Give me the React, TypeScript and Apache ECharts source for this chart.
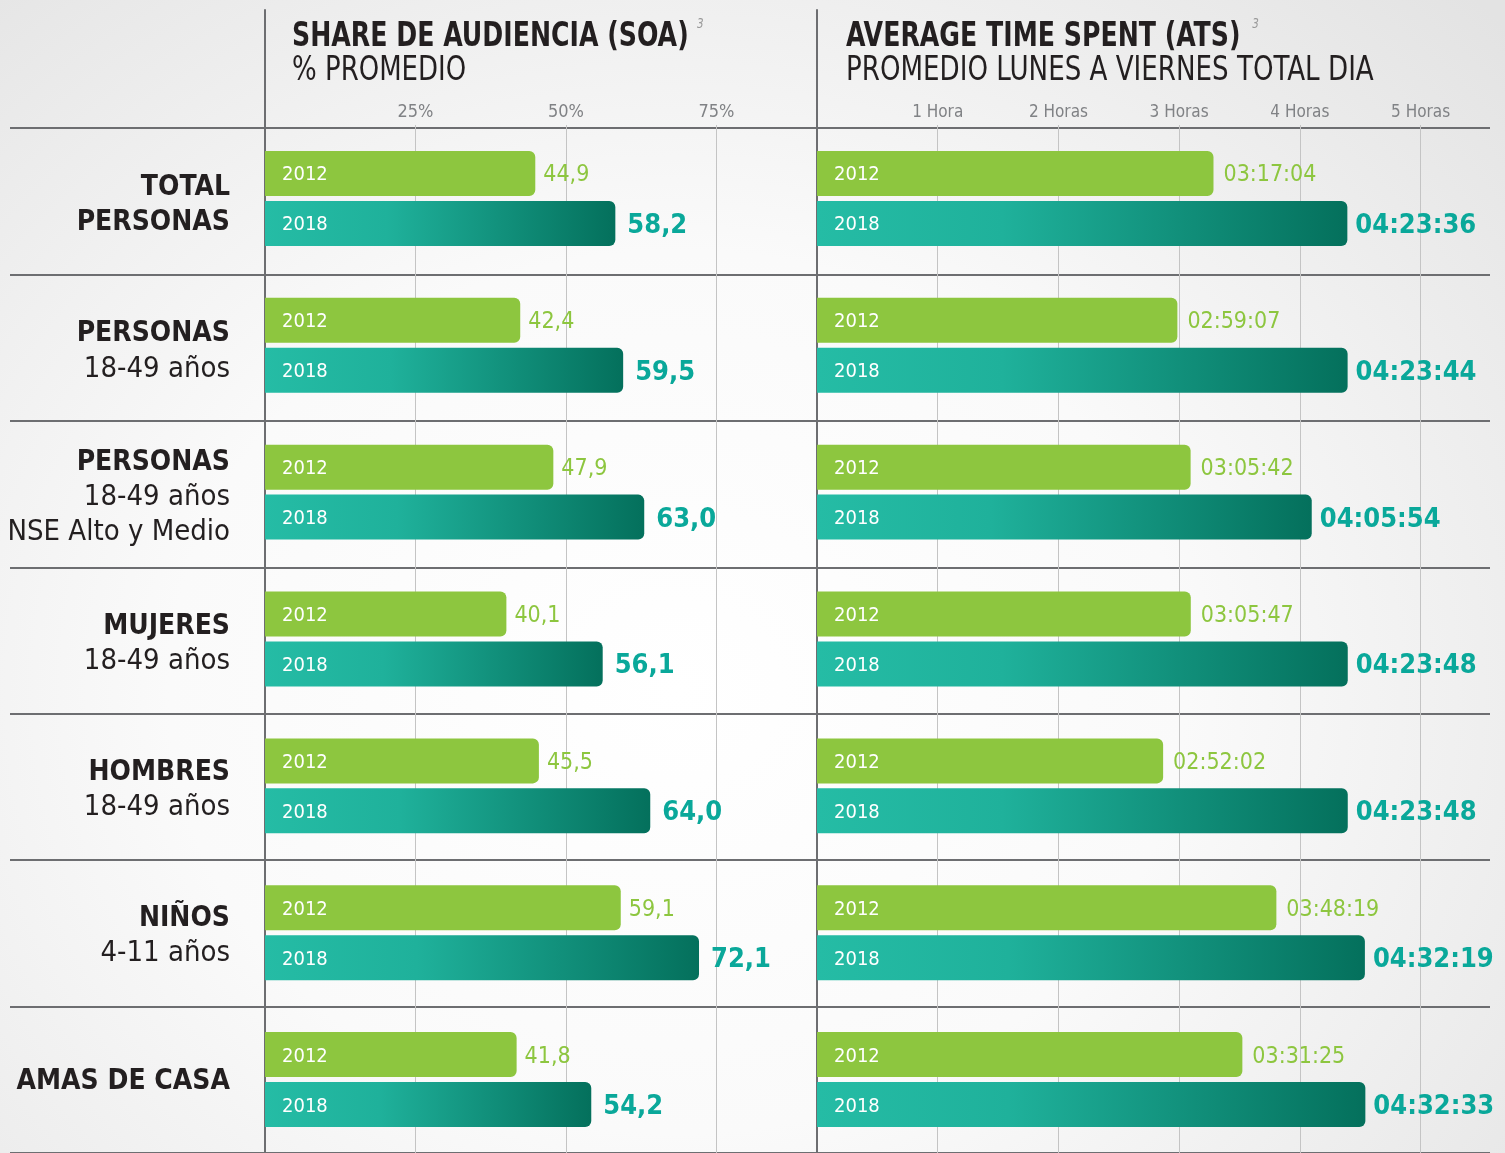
import React, { useEffect, useRef } from "react";
import * as echarts from "echarts";

const FONT = "'Liberation Sans Narrow', 'DejaVu Sans Condensed', 'Roboto', sans-serif";

const catMain = ["TOTAL\nPERSONAS", "PERSONAS", "PERSONAS", "MUJERES", "HOMBRES", "NIÑOS", "AMAS DE CASA"];
const catSub = ["", "18-49 años", "18-49 años\nNSE Alto y Medio", "18-49 años", "18-49 años", "4-11 años", ""];
const categories = catMain.map((m, i) => (catSub[i] ? m + "\n" + catSub[i] : m));

const soa2012 = [44.9, 42.4, 47.9, 40.1, 45.5, 59.1, 41.8];
const soa2018 = [58.2, 59.5, 63.0, 56.1, 64.0, 72.1, 54.2];
const ats2012 = ["03:17:04", "02:59:07", "03:05:42", "03:05:47", "02:52:02", "03:48:19", "03:31:25"];
const ats2018 = ["04:23:36", "04:23:44", "04:05:54", "04:23:48", "04:23:48", "04:32:19", "04:32:33"];

const soaTickLabels = ["25%", "50%", "75%"];
const atsTickLabels = ["1 Hora", "2 Horas", "3 Horas", "4 Horas", "5 Horas"];

const GREEN = "#8dc63f";
const TEAL_TEXT = "#0aa89a";
const DARK_LINE = "#6d6e71";
const LIGHT_LINE = "#c4c4c4";
const TICK_COLOR = "#808285";
const TEXT = "#231f20";

const toHours = (s: string) => {
  const [h, m, sec] = s.split(":").map(Number);
  return h + m / 60 + sec / 3600;
};
const fmtPct = (v: number) => v.toFixed(1).replace(".", ",");

export default function App() {
  const ref = useRef<HTMLDivElement>(null);
  useEffect(() => {
    if (!ref.current) return;
    const chart = echarts.init(ref.current, null, { renderer: "svg" });
    const tealGrad = () =>
      new echarts.graphic.LinearGradient(0, 0, 1, 0, [
        { offset: 0, color: "#25bca5" },
        { offset: 0.35, color: "#1fb19b" },
        { offset: 1, color: "#04705c" },
      ]);
    const hiddenCat = (gi: number) => ({
      gridIndex: gi,
      type: "category",
      data: categories,
      inverse: true,
      axisLine: { show: false },
      axisTick: { show: false },
      axisLabel: { show: false },
      splitLine: { show: false },
    });
    const hiddenVal = (gi: number) => ({ gridIndex: gi, type: "value", show: false });
    const divider = (gi: number) => ({
      gridIndex: gi,
      type: "value",
      axisLine: { show: true, lineStyle: { color: DARK_LINE, width: 2 } },
      axisTick: { show: false },
      axisLabel: { show: false },
      splitLine: { show: false },
    });
    const yearLabel = (txt: string) => ({
      show: true,
      position: "insideLeft",
      distance: 17,
      formatter: txt,
      color: "#ffffff",
      fontSize: 20,
      fontFamily: FONT,
    });
    const barBase = { type: "bar", barWidth: 45, barGap: "11%", silent: true };
    const smallVal = { color: GREEN, fontSize: 23, fontFamily: FONT };
    const bigVal = { color: TEAL_TEXT, fontSize: 27, fontWeight: "bold", fontFamily: FONT };
    const series: any[] = [];
    // SOA
    series.push({
      ...barBase, name: "2012", xAxisIndex: 3, yAxisIndex: 3, stack: "s12",
      data: soa2012,
      itemStyle: { color: GREEN, borderRadius: [0, 6, 6, 0] },
      label: yearLabel("2012"),
    });
    series.push({
      ...barBase, xAxisIndex: 3, yAxisIndex: 3, stack: "s12",
      data: soa2012.map(() => 0),
      itemStyle: { color: "transparent" },
      label: { show: true, position: "right", distance: 8, formatter: (p: any) => fmtPct(soa2012[p.dataIndex]), ...smallVal },
    });
    series.push({
      ...barBase, name: "2018", xAxisIndex: 3, yAxisIndex: 3, stack: "s18",
      data: soa2018,
      itemStyle: { color: tealGrad(), borderRadius: [0, 6, 6, 0] },
      label: yearLabel("2018"),
    });
    series.push({
      ...barBase, xAxisIndex: 3, yAxisIndex: 3, stack: "s18",
      data: soa2018.map(() => 0),
      itemStyle: { color: "transparent" },
      label: { show: true, position: "right", distance: 12, formatter: (p: any) => fmtPct(soa2018[p.dataIndex]), ...bigVal },
    });
    // ATS
    series.push({
      ...barBase, name: "2012", xAxisIndex: 4, yAxisIndex: 4, stack: "t12",
      data: ats2012.map(toHours),
      itemStyle: { color: GREEN, borderRadius: [0, 6, 6, 0] },
      label: yearLabel("2012"),
    });
    series.push({
      ...barBase, xAxisIndex: 4, yAxisIndex: 4, stack: "t12",
      data: ats2012.map(() => 0),
      itemStyle: { color: "transparent" },
      label: { show: true, position: "right", distance: 10, formatter: (p: any) => ats2012[p.dataIndex], ...smallVal },
    });
    series.push({
      ...barBase, name: "2018", xAxisIndex: 4, yAxisIndex: 4, stack: "t18",
      data: ats2018.map(toHours),
      itemStyle: { color: tealGrad(), borderRadius: [0, 6, 6, 0] },
      label: yearLabel("2018"),
    });
    series.push({
      ...barBase, xAxisIndex: 4, yAxisIndex: 4, stack: "t18",
      data: ats2018.map(() => 0),
      itemStyle: { color: "transparent" },
      label: { show: true, position: "right", distance: 8, formatter: (p: any) => ats2018[p.dataIndex], ...bigVal },
    });

    const H = 1031;
    const option: any = {
      animation: false,
      backgroundColor: "transparent",
      textStyle: { fontFamily: FONT },
      grid: [
        { left: 10, top: 128, width: 1480, height: H },
        { left: 265, top: 10, width: 552, height: H + 118 },
        { left: 817, top: 10, width: 673, height: H + 118 },
        { left: 265, top: 125, width: 552, height: H },
        { left: 817, top: 125, width: 673, height: H },
        { left: 230, top: 130, width: 1, height: H },
      ],
      xAxis: [
        hiddenVal(0),
        hiddenVal(1),
        hiddenVal(2),
        {
          gridIndex: 3, type: "value", position: "top", min: 0, max: 91.7, interval: 25,
          axisLine: { show: false }, axisTick: { show: false },
          axisLabel: {
            formatter: (v: number) => soaTickLabels[v / 25 - 1] ?? "",
            color: TICK_COLOR, fontSize: 18, fontFamily: FONT, margin: 6,
            showMinLabel: false, showMaxLabel: false,
          },
          splitLine: { show: true, showMinLine: false, showMaxLine: false, lineStyle: { color: LIGHT_LINE, width: 1 } },
        },
        {
          gridIndex: 4, type: "value", position: "top", min: 0, max: 5.575, interval: 1,
          axisLine: { show: false }, axisTick: { show: false },
          axisLabel: {
            formatter: (v: number) => atsTickLabels[v - 1] ?? "",
            color: TICK_COLOR, fontSize: 17, fontFamily: FONT, margin: 6,
            showMinLabel: false, showMaxLabel: false,
          },
          splitLine: { show: true, showMinLine: false, showMaxLine: false, lineStyle: { color: LIGHT_LINE, width: 1 } },
        },
        hiddenVal(5),
      ],
      yAxis: [
        {
          gridIndex: 0, type: "category", data: categories, inverse: true,
          axisLine: { show: false }, axisTick: { show: false }, axisLabel: { show: false },
          splitLine: { show: true, interval: 0, lineStyle: { color: DARK_LINE, width: 2 } },
        },
        divider(1),
        divider(2),
        hiddenCat(3),
        hiddenCat(4),
        {
          gridIndex: 5, type: "category", data: categories, inverse: true,
          axisLine: { show: false }, axisTick: { show: false }, splitLine: { show: false },
          axisLabel: {
            interval: 0, margin: 0, align: "right",
            formatter: (_v: string, i: number) => {
              const main = catMain[i].split("\n").map((l) => `{b|${l}}`);
              const sub = catSub[i] ? catSub[i].split("\n").map((l) => `{r|${l}}`) : [];
              return [...main, ...sub].join("\n");
            },
            rich: {
              b: { fontFamily: FONT, fontWeight: "bold", fontSize: 28, color: TEXT, lineHeight: 35, align: "right" },
              r: { fontFamily: FONT, fontSize: 29, color: TEXT, lineHeight: 35, align: "right" },
            },
          },
        },
      ],
      graphic: [
        {
          type: "text", x: 292, y: 16, scaleX: 0.825, silent: true,
          style: {
            text: "{t|SHARE DE AUDIENCIA (SOA)}{s|3}",
            rich: {
              t: { font: `bold 34px ${FONT}`, fill: TEXT, lineHeight: 36 },
              s: { font: `italic 14px ${FONT}`, fill: "#9a9a9a", verticalAlign: "top", lineHeight: 14, padding: [0, 0, 0, 10] },
            },
          },
        },
        {
          type: "text", x: 292, y: 51, scaleX: 0.85, silent: true,
          style: { text: "% PROMEDIO", font: `34px ${FONT}`, fill: TEXT },
        },
        {
          type: "text", x: 846, y: 16, scaleX: 0.825, silent: true,
          style: {
            text: "{t|AVERAGE TIME SPENT (ATS)}{s|3}",
            rich: {
              t: { font: `bold 34px ${FONT}`, fill: TEXT, lineHeight: 36 },
              s: { font: `italic 14px ${FONT}`, fill: "#9a9a9a", verticalAlign: "top", lineHeight: 14, padding: [0, 0, 0, 14] },
            },
          },
        },
        {
          type: "text", x: 846, y: 51, scaleX: 0.855, silent: true,
          style: { text: "PROMEDIO LUNES A VIERNES TOTAL DIA", font: `34px ${FONT}`, fill: TEXT },
        },
      ],
      series,
    };
    chart.setOption(option);
    return () => chart.dispose();
  }, []);
  return (
    <div
      style={{
        position: "fixed",
        left: 0,
        top: 0,
        width: 1505,
        height: 1153,
        background:
          "radial-gradient(ellipse 75% 85% at 45% 60%, #ffffff 0%, #fafafa 45%, #e3e3e3 100%)",
      }}
    >
      <div ref={ref} style={{ width: 1505, height: 1153 }} />
    </div>
  );
}
